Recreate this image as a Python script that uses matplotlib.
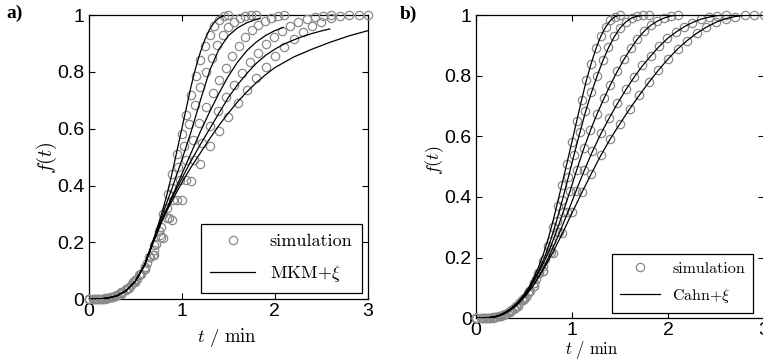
import matplotlib
matplotlib.use("Agg")
import matplotlib.pyplot as plt

# ---------------- data ----------------
# simulation (same in both panels)
sim_t1 = [0.00,0.05,0.10,0.15,0.20,0.25,0.30,0.35,0.40,0.45,0.50,0.55,0.60,0.65,0.70,0.75,0.80,0.85,0.90,0.95,1.00,1.05,1.10,1.15,1.20,1.25,1.30,1.35,1.40,1.45,1.50]
sim_f1 = [0,0,0.001,0.002,0.005,0.009,0.015,0.024,0.035,0.05,0.067,0.09,0.115,0.15,0.19,0.24,0.30,0.37,0.44,0.51,0.58,0.65,0.72,0.785,0.84,0.89,0.93,0.96,0.982,0.995,1.0]
sim_t2 = [0.00,0.06,0.12,0.18,0.24,0.30,0.36,0.42,0.48,0.54,0.60,0.66,0.72,0.78,0.84,0.90,0.96,1.02,1.08,1.14,1.20,1.26,1.32,1.38,1.44,1.50,1.56,1.62,1.68,1.74,1.80]
sim_f2 = [0,0,0.001,0.003,0.008,0.015,0.026,0.041,0.06,0.085,0.115,0.15,0.195,0.255,0.32,0.39,0.465,0.54,0.615,0.685,0.745,0.80,0.85,0.895,0.93,0.958,0.977,0.99,0.996,0.999,1.0]
sim_t3 = [0.00,0.07,0.14,0.21,0.28,0.35,0.42,0.49,0.56,0.63,0.70,0.77,0.84,0.91,0.98,1.05,1.12,1.19,1.26,1.33,1.40,1.47,1.54,1.61,1.68,1.75,1.82,1.89,1.96,2.03,2.10]
sim_f3 = [0,0,0.001,0.004,0.011,0.022,0.038,0.06,0.09,0.128,0.172,0.225,0.285,0.35,0.42,0.49,0.56,0.62,0.675,0.725,0.77,0.815,0.855,0.89,0.922,0.947,0.966,0.98,0.99,0.997,1.0]
sim_t4 = [0.00,0.087,0.173,0.26,0.347,0.433,0.52,0.607,0.693,0.78,0.867,0.953,1.04,1.127,1.213,1.30,1.387,1.473,1.56,1.647,1.733,1.82,1.907,1.993,2.08,2.167,2.253,2.34,2.427,2.513,2.60]
sim_f4 = [0,0,0.002,0.008,0.02,0.04,0.07,0.105,0.155,0.22,0.285,0.35,0.42,0.49,0.55,0.61,0.662,0.71,0.755,0.797,0.834,0.866,0.897,0.923,0.944,0.961,0.975,0.986,0.993,0.998,1.0]
sim_t5 = [0.0,0.1,0.2,0.3,0.4,0.5,0.6,0.7,0.8,0.9,1.0,1.1,1.2,1.3,1.4,1.5,1.6,1.7,1.8,1.9,2.0,2.1,2.2,2.3,2.4,2.5,2.6,2.7,2.8,2.9,3.0]
sim_f5 = [0,0.001,0.005,0.014,0.032,0.062,0.105,0.155,0.215,0.28,0.35,0.415,0.477,0.538,0.592,0.642,0.69,0.735,0.778,0.818,0.855,0.888,0.915,0.94,0.96,0.976,0.988,0.995,0.999,1.0,1.0]

# panel a: MKM+xi fits
mkm_t1 = [0.0,0.1,0.2,0.3,0.4,0.5,0.6,0.7,0.75,0.8,0.85,0.9,0.95,1.0,1.05,1.1,1.15,1.2,1.25,1.3,1.35,1.4,1.45]
mkm_f1 = [0,0.001,0.004,0.012,0.03,0.063,0.12,0.215,0.265,0.32,0.38,0.45,0.525,0.6,0.675,0.75,0.815,0.87,0.915,0.95,0.975,0.99,0.997]
mkm_t2 = [0.0,0.1,0.2,0.3,0.4,0.5,0.6,0.7,0.8,0.9,1.0,1.1,1.2,1.3,1.4,1.5,1.6,1.7,1.8,1.84]
mkm_f2 = [0,0.001,0.004,0.012,0.03,0.063,0.12,0.213,0.305,0.395,0.49,0.59,0.70,0.805,0.88,0.927,0.955,0.973,0.985,0.988]
mkm_t3 = [0.0,0.1,0.2,0.3,0.4,0.5,0.6,0.7,0.8,0.9,1.0,1.1,1.2,1.3,1.4,1.5,1.6,1.7,1.8,1.9,2.0,2.09]
mkm_f3 = [0,0.001,0.004,0.012,0.03,0.063,0.12,0.21,0.29,0.365,0.44,0.515,0.59,0.66,0.725,0.785,0.835,0.875,0.905,0.928,0.945,0.956]
mkm_t4 = [0.0,0.1,0.2,0.3,0.4,0.5,0.6,0.7,0.8,0.9,1.0,1.1,1.2,1.3,1.4,1.5,1.6,1.7,1.8,1.9,2.0,2.1,2.2,2.3,2.4,2.5,2.59]
mkm_f4 = [0,0.001,0.004,0.012,0.03,0.063,0.12,0.208,0.29,0.36,0.425,0.487,0.545,0.60,0.655,0.71,0.755,0.795,0.83,0.858,0.88,0.898,0.912,0.925,0.935,0.944,0.951]
mkm_t5 = [0.0,0.1,0.2,0.3,0.4,0.5,0.6,0.7,0.8,0.9,1.0,1.1,1.2,1.3,1.4,1.5,1.6,1.7,1.8,1.9,2.0,2.2,2.4,2.6,2.8,3.0]
mkm_f5 = [0,0.001,0.004,0.012,0.03,0.063,0.12,0.205,0.285,0.35,0.41,0.465,0.515,0.565,0.612,0.655,0.695,0.73,0.762,0.79,0.815,0.852,0.88,0.905,0.927,0.945]

# panel b: Cahn+xi fits (same grids as the simulation, then flat at 1 up to t = 3)
cahn_tail_t = [3.0]
cahn_tail_f = [1.0]
cahn_f1 = [0,0,0.001,0.003,0.006,0.011,0.019,0.029,0.042,0.058,0.078,0.102,0.132,0.168,0.21,0.26,0.318,0.382,0.448,0.515,0.583,0.652,0.72,0.785,0.84,0.89,0.93,0.96,0.982,0.995,1.0]
cahn_f2 = [0,0,0.001,0.004,0.009,0.018,0.03,0.047,0.068,0.094,0.125,0.162,0.205,0.26,0.322,0.39,0.463,0.537,0.61,0.68,0.742,0.798,0.848,0.892,0.928,0.957,0.977,0.99,0.996,0.999,1.0]
cahn_f3 = [0,0,0.001,0.005,0.013,0.026,0.044,0.068,0.099,0.137,0.18,0.23,0.288,0.352,0.42,0.49,0.557,0.618,0.673,0.723,0.77,0.813,0.853,0.888,0.92,0.946,0.966,0.98,0.99,0.997,1.0]
cahn_f4 = [0,0,0.003,0.01,0.024,0.046,0.076,0.113,0.16,0.217,0.28,0.347,0.418,0.487,0.55,0.608,0.66,0.708,0.753,0.795,0.832,0.865,0.896,0.922,0.943,0.961,0.975,0.986,0.993,0.998,1.0]
cahn_f5 = [0,0.001,0.006,0.017,0.037,0.068,0.11,0.16,0.217,0.28,0.347,0.413,0.476,0.537,0.592,0.642,0.69,0.735,0.778,0.818,0.855,0.888,0.916,0.94,0.96,0.976,0.988,0.995,0.999,1.0,1.0]

x_ticks = [0, 1, 2, 3]
x_ticklabels = ["0", "1", "2", "3"]
y_ticks = [0, 0.2, 0.4, 0.6, 0.8, 1.0]
y_ticklabels = ["0", "0.2", "0.4", "0.6", "0.8", "1"]

sim_t = [sim_t1, sim_t2, sim_t3, sim_t4, sim_t5]
sim_f = [sim_f1, sim_f2, sim_f3, sim_f4, sim_f5]
mkm_t = [mkm_t1, mkm_t2, mkm_t3, mkm_t4, mkm_t5]
mkm_f = [mkm_f1, mkm_f2, mkm_f3, mkm_f4, mkm_f5]
cahn_f = [cahn_f1, cahn_f2, cahn_f3, cahn_f4, cahn_f5]

# ---------------- style ----------------
plt.rcParams['font.family'] = ['Liberation Sans', 'DejaVu Sans']
plt.rcParams['mathtext.fontset'] = 'cm'

W, H = 763, 362
fig = plt.figure(figsize=(W / 100, H / 100), dpi=100)

MK = dict(linestyle='none', marker='o', markersize=6, markerfacecolor='none',
          markeredgecolor='#8a8a8a', markeredgewidth=0.9, clip_on=False, zorder=3)
LN = dict(color='black', linewidth=0.9, zorder=4)


def style_axes(ax):
    ax.set_xlim(0, 3)
    ax.set_ylim(0, 1)
    ax.set_xticks(x_ticks)
    ax.set_xticklabels(x_ticklabels)
    ax.set_yticks(y_ticks)
    ax.set_yticklabels(y_ticklabels)
    ax.tick_params(direction='in', top=True, right=True, length=4, width=0.8,
                   labelsize=14, pad=3)
    for s in ax.spines.values():
        s.set_linewidth(0.9)


def make_legend(ax, anchor, size, spacing):
    leg = ax.legend(loc='lower right', bbox_to_anchor=anchor,
                    prop={'family': ['cmr10', 'DejaVu Serif'], 'size': size},
                    borderaxespad=0, numpoints=1, handlelength=2.5,
                    labelspacing=spacing, fancybox=False, framealpha=1,
                    edgecolor='black', borderpad=0.5)
    leg.get_frame().set_linewidth(0.9)
    return leg


# panel a
axa = fig.add_axes([88.7 / W, (H - 299.3) / H, 279.3 / W, 284.3 / H])
style_axes(axa)
for k in range(5):
    axa.plot(sim_t[k], sim_f[k], label='simulation' if k == 0 else None, **MK)
for k in range(5):
    axa.plot(mkm_t[k], mkm_f[k], label=r'MKM+$\xi$' if k == 0 else None, **LN)
axa.set_xlabel(r'$t\ /\ \mathrm{min}$', fontsize=13.5)
axa.set_ylabel(r'$f(t)$', fontsize=14.5)
axa.xaxis.set_label_coords(0.495, -0.136)
axa.xaxis.label.set_verticalalignment('center')
axa.yaxis.set_label_coords(-0.150, 0.5)
axa.yaxis.label.set_verticalalignment('center')
make_legend(axa, (0.977, 0.021), 13, 0.8)

# panel b
axb = fig.add_axes([476 / W, (H - 318.3) / H, 288 / W, 303.3 / H])
style_axes(axb)
for k in range(5):
    axb.plot(sim_t[k], sim_f[k], label='simulation' if k == 0 else None, **MK)
for k in range(5):
    axb.plot(sim_t[k] + cahn_tail_t, cahn_f[k] + cahn_tail_f,
             label=r'Cahn+$\xi$' if k == 0 else None, **LN)
axb.set_xlabel(r'$t\ /\ \mathrm{min}$', fontsize=12)
axb.set_ylabel(r'$f(t)$', fontsize=13)
axb.xaxis.set_label_coords(0.402, -0.104)
axb.xaxis.label.set_verticalalignment('center')
axb.yaxis.set_label_coords(-0.142, 0.52)
axb.yaxis.label.set_verticalalignment('center')
make_legend(axb, (0.962, 0.018), 11.5, 0.7)

fig.text(6 / W, 1 - 13 / H, 'a)', fontsize=14, fontweight='bold',
         family='Liberation Serif', va='center', ha='left')
fig.text(400 / W, 1 - 14 / H, 'b)', fontsize=14, fontweight='bold',
         family='Liberation Serif', va='center', ha='left')

fig.savefig('out.png', dpi=100)
